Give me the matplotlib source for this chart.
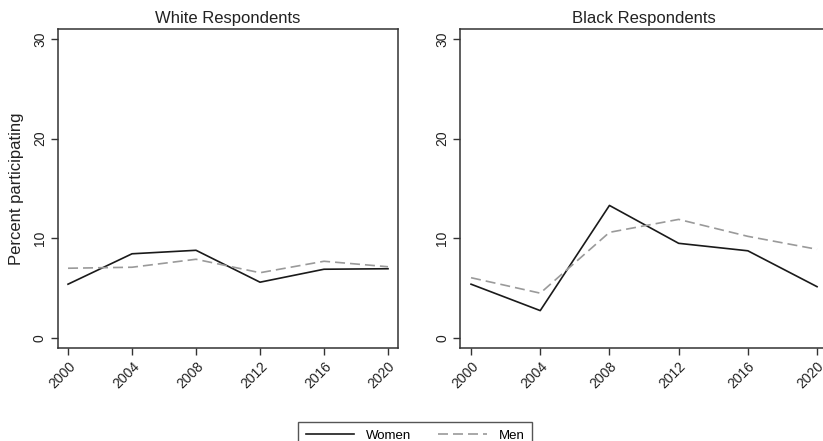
import matplotlib
matplotlib.use("Agg")
import matplotlib.pyplot as plt

plt.rcParams["font.family"] = ["Liberation Sans", "DejaVu Sans"]

annees = [2000, 2004, 2008, 2012, 2016, 2020]

# pourcentage de participation, répondants blancs
blancs_femmes = [5.4, 8.45, 8.8, 5.6, 6.9, 6.95]
blancs_hommes = [7.0, 7.1, 7.9, 6.55, 7.7, 7.15]

# pourcentage de participation, répondants noirs
noirs_femmes = [5.4, 2.75, 13.3, 9.5, 8.75, 5.15]
noirs_hommes = [6.05, 4.5, 10.6, 11.9, 10.2, 8.9]

titres = ["White Respondents", "Black Respondents"]
yticks = [0, 10, 20, 30]

fig = plt.figure(figsize=(8.23, 4.41), dpi=100)
ax1 = fig.add_axes([0.0705, 0.2109, 0.4131, 0.7234])
ax2 = fig.add_axes([0.5592, 0.2109, 0.4467, 0.7234])

gris = "#9a9a9a"
bord = "#333333"

donnees = [(blancs_femmes, blancs_hommes), (noirs_femmes, noirs_hommes)]
for ax, titre, (femmes, hommes) in zip([ax1, ax2], titres, donnees):
    l_f, = ax.plot(annees, femmes, color="#1a1a1a", lw=1.2, label="Women")
    l_h, = ax.plot(annees, hommes, color=gris, lw=1.2, dashes=(6, 3), label="Men")
    ax.set_xlim(1999.375, 2020.625)
    ax.set_ylim(-1.0, 31.0)
    ax.set_xticks(annees)
    ax.set_xticklabels([str(a) for a in annees], rotation=45, ha="right",
                       rotation_mode="anchor", fontsize=10, color="#222222")
    ax.set_yticks(yticks)
    ax.set_yticklabels([str(v) for v in yticks], rotation=90, va="center",
                       fontsize=10, color="#222222")
    ax.tick_params(axis="both", direction="out", length=5, width=1.0, color=bord)
    ax.tick_params(axis="x", pad=3)
    ax.tick_params(axis="y", pad=3)
    for s in ax.spines.values():
        s.set_color(bord)
        s.set_linewidth(1.1)
    ax.set_title(titre, fontsize=12, pad=4, color="#222222")

ax1.set_ylabel("Percent participating", fontsize=12, color="#222222")
ax1.yaxis.set_label_coords(-0.1, 0.5)

leg = fig.legend([l_f, l_h], ["Women", "Men"], loc="upper center",
                 bbox_to_anchor=(0.5043, 1 - 415 / 441), ncol=2,
                 fancybox=False, edgecolor="#555555", fontsize=9.5,
                 handlelength=3.7, columnspacing=2.0, handletextpad=0.9,
                 borderpad=0.6, framealpha=1)
leg.get_frame().set_linewidth(1.0)

fig.savefig("out.png", dpi=100)
